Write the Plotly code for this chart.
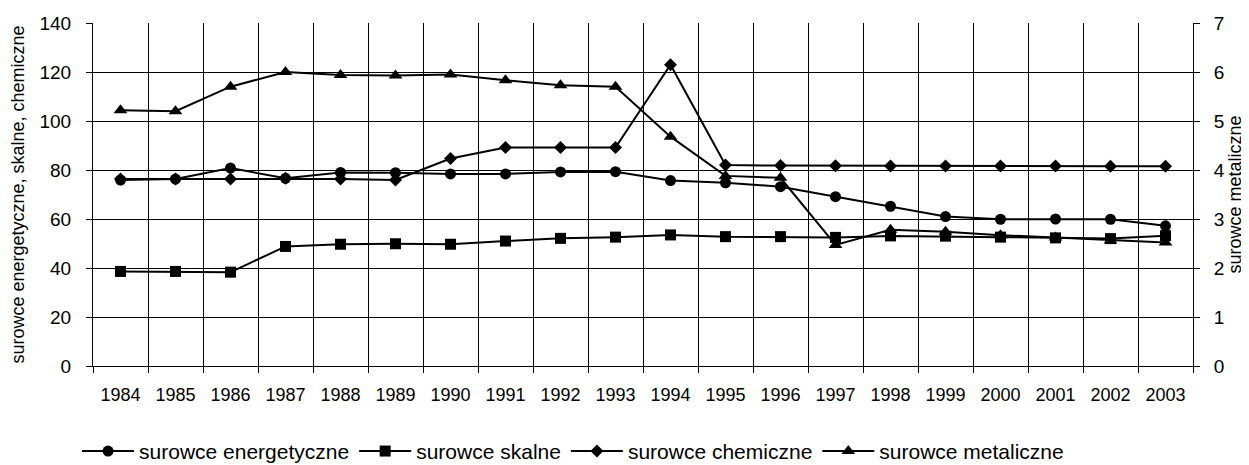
import plotly.graph_objects as go

years = [str(y) for y in range(1984, 2004)]

energetyczne = [75.9, 76.3, 80.8, 76.6, 79.0, 78.9, 78.4, 78.4, 79.2, 79.3,
                75.7, 74.8, 73.2, 69.1, 65.2, 61.0, 59.9, 60.0, 59.9, 57.2]
skalne = [38.6, 38.6, 38.3, 48.8, 49.7, 49.9, 49.7, 51.0, 52.1, 52.6,
          53.5, 52.8, 52.8, 52.5, 53.1, 53.0, 52.6, 52.3, 52.0, 53.2]
chemiczne = [76.3, 76.3, 76.3, 76.6, 76.3, 75.9, 84.7, 89.2, 89.2, 89.2,
             123.0, 82.0, 81.8, 81.7, 81.6, 81.6, 81.6, 81.6, 81.5, 81.5]
metaliczne = [5.22, 5.20, 5.70, 6.00, 5.94, 5.93, 5.95, 5.83, 5.73, 5.70,
              4.68, 3.88, 3.84, 2.47, 2.78, 2.74, 2.67, 2.62, 2.56, 2.52]

left_ticks = [0, 20, 40, 60, 80, 100, 120, 140]
right_ticks = [0, 1, 2, 3, 4, 5, 6, 7]

FONT = "Liberation Sans, Arial, sans-serif"

fig = go.Figure()
fig.add_trace(go.Scatter(x=years, y=energetyczne, name="surowce energetyczne",
                         mode="lines+markers", line=dict(color="black", width=2),
                         marker=dict(symbol="circle", size=11, color="black")))
fig.add_trace(go.Scatter(x=years, y=skalne, name="surowce skalne",
                         mode="lines+markers", line=dict(color="black", width=2),
                         marker=dict(symbol="square", size=11, color="black")))
fig.add_trace(go.Scatter(x=years, y=chemiczne, name="surowce chemiczne",
                         mode="lines+markers", line=dict(color="black", width=2),
                         marker=dict(symbol="diamond", size=10, color="black")))
fig.add_trace(go.Scatter(x=years, y=metaliczne, name="surowce metaliczne",
                         mode="lines+markers", line=dict(color="black", width=2),
                         marker=dict(symbol="triangle-up", size=12, color="black"),
                         yaxis="y2"))

# the page adds an 8 px body margin, so the figure is 8 px smaller than the window
fig.update_layout(
    width=1241, height=457,
    margin=dict(l=85, r=56, t=15, b=99, autoexpand=False),
    paper_bgcolor="white", plot_bgcolor="white",
    font=dict(family=FONT, size=18, color="black"),
    showlegend=True,
    legend=dict(orientation="h", x=-0.0145, xanchor="left", y=-0.249, yanchor="middle",
                font=dict(size=21, color="black"), bgcolor="rgba(0,0,0,0)",
                traceorder="normal", itemwidth=52),
    xaxis=dict(type="category", tickson="boundaries", ticks="outside", ticklen=6,
               tickcolor="black", showline=True, linecolor="black", linewidth=1,
               showgrid=True, gridcolor="black", gridwidth=1, automargin=False,
               tickfont=dict(size=18, color="black"), ticklabelstandoff=12,
               range=[-0.5, 19.5]),
    yaxis=dict(range=[0, 140], tickvals=left_ticks, ticks="outside", ticklen=6,
               tickcolor="black", showline=True, linecolor="black", linewidth=1,
               showgrid=True, gridcolor="black", gridwidth=1, zeroline=False,
               automargin=False,
               tickfont=dict(size=19, color="black"), ticklabelstandoff=11,
               title=dict(text="surowce energetyczne, skalne, chemiczne",
                          font=dict(size=18, color="black"), standoff=11)),
    yaxis2=dict(range=[0, 7], tickvals=right_ticks, overlaying="y", side="right",
                ticks="outside", ticklen=6, tickcolor="black", showline=True,
                linecolor="black", linewidth=1, showgrid=False, zeroline=False,
                automargin=False,
                tickfont=dict(size=19, color="black"), ticklabelstandoff=10,
                title=dict(text="surowce metaliczne", font=dict(size=18, color="black"),
                           standoff=4)),
)

fig.write_html("out.html")
